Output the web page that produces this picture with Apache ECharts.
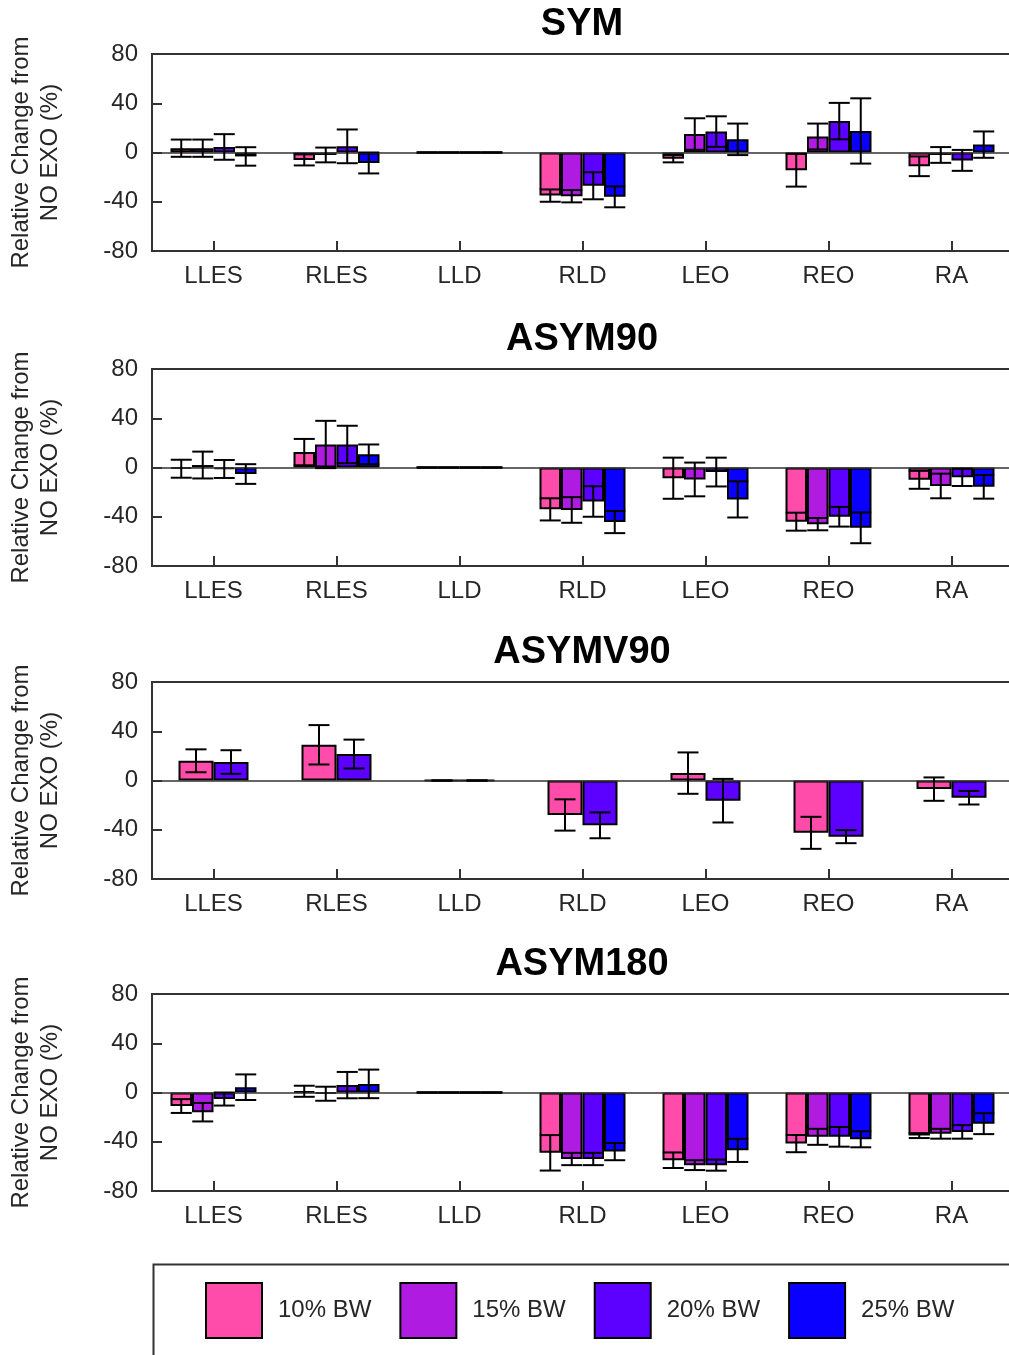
<!DOCTYPE html>
<html>
<head>
<meta charset="utf-8">
<script src="https://cdn.jsdelivr.net/npm/echarts@6/dist/echarts.min.js"></script>
<style>
html,body{margin:0;padding:0;background:#fff;}
#chart{width:1009px;height:1355px;}
</style>
</head>
<body>
<div id="chart"></div>
<script>
// ---------- data ----------
const categories = ['LLES','RLES','LLD','RLD','LEO','REO','RA'];
const seriesNames = ['10% BW','15% BW','20% BW','25% BW'];
const panelTitles = ['SYM','ASYM90','ASYMV90','ASYM180'];
const yTicks = [-80,-40,0,40,80];

// SYM
const sym10 = [3.5, -6, 0, -35, -5, -14.4, -11.2];
const sym10sd = [7, 4.5, 0, 5, 3, 13.3, 8];
const sym15 = [3.5, -2, 0, -35.5, 15, 13, -2];
const sym15sd = [7, 6, 0, 5, 12.8, 10.5, 6.4];
const sym20 = [4.5, 5, 0, -27, 17, 25.5, -6.4];
const sym20sd = [10.4, 13.7, 0, 11, 12.4, 14.8, 8.5];
const sym25 = [-3.2, -8.5, 0, -36, 10.7, 17.5, 6.4];
const sym25sd = [7.5, 8.5, 0, 8.5, 12.8, 26.5, 10.7];

// ASYM90
const a90_10 = [-1, 12.5, 0, -34, -8.7, -44, -10];
const a90_10sd = [7.3, 10.7, 0, 9, 16.7, 7.3, 7.3];
const a90_15 = [2, 18.7, 0, -34.5, -9.7, -46, -15];
const a90_15sd = [10.9, 19.2, 0, 10.4, 13.7, 5, 10];
const a90_20 = [-1.2, 18.7, 0, -27.6, -3.7, -40, -8];
const a90_20sd = [7.3, 15.2, 0, 12.4, 11.7, 8, 7];
const a90_25 = [-5.3, 10.7, 0, -44.3, -25.9, -49, -15.7];
const a90_25sd = [8, 8, 0, 9, 14.7, 12.5, 9.6];

// ASYMV90 (only 10% and 20%)
const av90_10 = [16, 29, 0, -28, 6, -42.5, -7];
const av90_10sd = [9.3, 16, 0, 12.7, 16.8, 13, 9.5];
const av90_20 = [15, 21.5, 0, -36.4, -16.4, -45.6, -14];
const av90_20sd = [9.6, 11.7, 0, 10.5, 17.7, 5.3, 5.5];

// ASYM180
const a180_10 = [-11, 1, 0, -49, -55, -41.5, -35];
const a180_10sd = [5.6, 4.5, 0, 14.4, 6.3, 7, 2];
const a180_15 = [-16, -1, 0, -54, -59, -36, -33.5];
const a180_15sd = [7.5, 5.7, 0, 5, 4, 6.5, 4];
const a180_20 = [-5.3, 6, 0, -54, -59, -36, -32];
const a180_20sd = [5.3, 10.7, 0, 5, 4.5, 8, 5.5];
const a180_25 = [4.3, 7, 0, -48, -47, -38, -25.3];
const a180_25sd = [10.4, 11.6, 0, 7, 9.4, 6.5, 8.5];

// ---------- styling ----------
const colors = {'10% BW':'#FF4BAA','15% BW':'#B01BE2','20% BW':'#5C00FF','25% BW':'#0A00FF'};
const axisColor = '#333333';
const textColor = '#262626';
const FONT = 'Liberation Sans, Arial, Helvetica, sans-serif';

const panels = [
  {title: panelTitles[0], top: 54, names: seriesNames, means:[sym10,sym15,sym20,sym25], sds:[sym10sd,sym15sd,sym20sd,sym25sd], barW: 21.5},
  {title: panelTitles[1], top: 369, names: seriesNames, means:[a90_10,a90_15,a90_20,a90_25], sds:[a90_10sd,a90_15sd,a90_20sd,a90_25sd], barW: 21.5},
  {title: panelTitles[2], top: 682, names: ['10% BW','20% BW'], means:[av90_10,av90_20], sds:[av90_10sd,av90_20sd], barW: 35},
  {title: panelTitles[3], top: 994, names: seriesNames, means:[a180_10,a180_15,a180_20,a180_25], sds:[a180_10sd,a180_15sd,a180_20sd,a180_25sd], barW: 21.5}
];
const gridH = 197;
const capW = 21;

const grids = [], xAxes = [], yAxes = [], series = [], titles = [];
panels.forEach((p, pi) => {
  grids.push({left: 152, width: 861, top: p.top, height: gridH, show: true,
    outerBoundsMode: 'none', containLabel: false,
    borderColor: axisColor, borderWidth: 2, backgroundColor: 'transparent'});
  titles.push({text: p.title, left: 582, top: p.top - 48, textAlign: 'center', padding: 0,
    textStyle: {fontFamily: FONT, fontSize: 38, fontWeight: 'bold', color: '#000'}});
  xAxes.push({type: 'category', gridIndex: pi, data: categories,
    axisLine: {show: true, onZero: false, lineStyle: {color: axisColor, width: 2}},
    axisTick: {show: true, inside: true, length: 10, alignWithLabel: true, lineStyle: {color: axisColor, width: 2}},
    axisLabel: {fontFamily: FONT, fontSize: 24, color: textColor, margin: 13},
    splitLine: {show: false}});
  yAxes.push({type: 'value', gridIndex: pi, min: yTicks[0], max: yTicks[yTicks.length-1], interval: 40,
    name: 'Relative Change from\nNO EXO (%)', nameLocation: 'middle', nameGap: 87, nameRotate: 90,
    nameTextStyle: {fontFamily: FONT, fontSize: 24, color: textColor, lineHeight: 29},
    axisLine: {show: true, lineStyle: {color: axisColor, width: 2}},
    axisTick: {show: true, inside: true, length: 10, lineStyle: {color: axisColor, width: 2}},
    axisLabel: {fontFamily: FONT, fontSize: 24, color: textColor, margin: 14},
    splitLine: {show: false}});
  const n = p.names.length;
  p.names.forEach((nm, si) => {
    const s = {
      name: nm, type: 'bar', xAxisIndex: pi, yAxisIndex: pi,
      data: p.means[si], barWidth: p.barW, barGap: '0%',
      itemStyle: {color: colors[nm], borderColor: '#000', borderWidth: 2},
      emphasis: {disabled: true}, z: 2
    };
    if (si === 0) {
      s.markLine = {silent: true, symbol: 'none', label: {show: false},
        lineStyle: {color: axisColor, width: 1.5, type: 'solid'}, data: [{yAxis: 0}]};
    }
    series.push(s);
  });
  p.names.forEach((nm, si) => {
    const offset = (si - (n - 1) / 2) * p.barW;
    const errData = p.means[si].map((m, ci) => [ci, m, p.sds[si][ci]]);
    series.push({
      type: 'custom', name: nm + ' err', xAxisIndex: pi, yAxisIndex: pi, z: 5,
      encode: {x: 0, y: 1}, silent: true,
      data: errData,
      renderItem: function (params, api) {
        const ci = api.value(0), m = api.value(1), sd = api.value(2);
        const c = api.coord([ci, m]);
        const x = c[0] + offset;
        const yT = api.coord([ci, m + sd])[1];
        const yB = api.coord([ci, m - sd])[1];
        const st = {stroke: '#000', lineWidth: 2};
        return {type: 'group', children: [
          {type: 'line', shape: {x1: x, y1: yT, x2: x, y2: yB}, style: st},
          {type: 'line', shape: {x1: x - capW/2, y1: yT, x2: x + capW/2, y2: yT}, style: st},
          {type: 'line', shape: {x1: x - capW/2, y1: yB, x2: x + capW/2, y2: yB}, style: st}
        ]};
      }
    });
  });
});

const chart = echarts.init(document.getElementById('chart'), null, {renderer: 'canvas'});
chart.setOption({
  animation: false,
  backgroundColor: '#fff',
  title: titles,
  grid: grids,
  xAxis: xAxes,
  yAxis: yAxes,
  series: series,
  legend: {
    data: seriesNames, left: 205, top: 1282, orient: 'horizontal', padding: 0,
    itemWidth: 56, itemHeight: 55, itemGap: 28, icon: 'rect',
    itemStyle: {borderColor: '#000', borderWidth: 2},
    textStyle: {fontFamily: FONT, fontSize: 24, color: textColor, padding: [0, 0, 0, 11]},
    selectedMode: false
  },
  graphic: [{type: 'rect', left: 151, top: 1262, shape: {width: 880, height: 110},
    style: {fill: 'none', stroke: axisColor, lineWidth: 2}, silent: true}]
});
</script>
</body>
</html>
